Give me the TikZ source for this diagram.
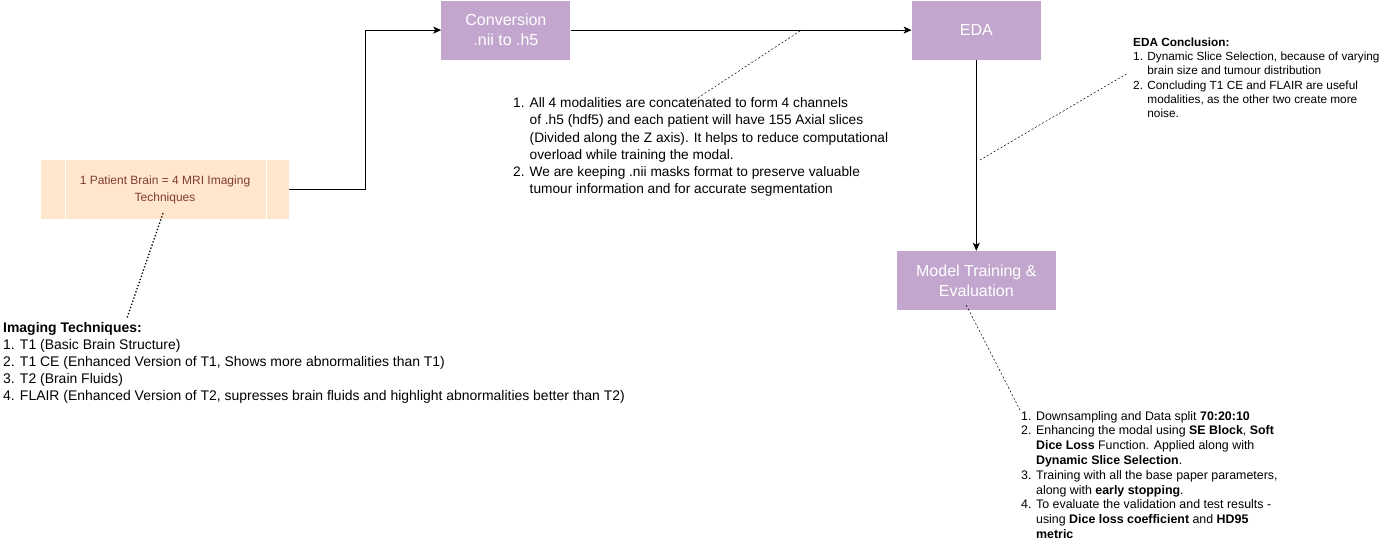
\documentclass[tikz,border=0pt]{standalone}
\usepackage{fontspec}
\setmainfont{Liberation Sans}
\usepackage{xcolor}
\usepackage{tikz}
\usetikzlibrary{positioning,arrows.meta}
\definecolor{stagepurple}{RGB}{195,166,206}
\definecolor{peach}{RGB}{255,230,204}
\definecolor{peachtext}{RGB}{130,60,50}

\begin{document}
\begin{tikzpicture}[>={Stealth[length=8pt,width=7pt,inset=2pt]}, x=1pt, y=-1pt,
  stage/.style={fill=stagepurple, text=white, minimum width=129pt, minimum height=59pt, inner sep=0pt, align=center, font=\fontsize{16}{20}\selectfont},
  note/.style={anchor=north west, inner sep=0pt, align=left},
  link/.style={dash pattern=on 2pt off 2pt, line width=0.5pt}]
  \useasboundingbox (0,0) rectangle (1390,555);

  \node[fill=peach, text=peachtext, minimum width=248pt, minimum height=59pt, inner sep=0pt, align=center, font=\fontsize{12}{17}\selectfont] (patient) at (165,189.5) {1 Patient Brain = 4 MRI Imaging\\Techniques};
  \draw[white, line width=1pt] ([xshift=25pt]patient.north west) -- ([xshift=25pt]patient.south west);
  \draw[white, line width=1pt] ([xshift=-23pt]patient.north east) -- ([xshift=-23pt]patient.south east);
  \node[stage] [above right=100pt and 152pt of patient] (conv) {Conversion\\.nii to .h5};
  \node[stage] [right=341pt of conv] (eda) {EDA};
  \node[stage] [below=191pt of eda, minimum width=159pt] (train) {Model Training \&\\Evaluation};

  \node[note, font=\fontsize{13.95}{17}\selectfont] (techniques) at (3,322.5) {\textbf{Imaging Techniques:}\\
    1. T1 (Basic Brain Structure)\\
    2. T1 CE (Enhanced Version of T1, Shows more abnormalities than T1)\\
    3. T2 (Brain Fluids)\\
    4. FLAIR (Enhanced Version of T2, supresses brain fluids and highlight abnormalities better than T2)};
  \node[note, font=\fontsize{13.7}{17.2}\selectfont] (convnote) at (513,97.5) {1. All 4 modalities are concatenated to form 4 channels\\
    \hphantom{1. }of .h5 (hdf5) and each patient will have 155 Axial slices\\
    \hphantom{1. }(Divided along the Z axis). It helps to reduce computational\\
    \hphantom{1. }overload while training the modal.\\
    2. We are keeping .nii masks format to preserve valuable\\
    \hphantom{2. }tumour information and for accurate segmentation};
  \node[note, font=\fontsize{11.8}{14.3}\selectfont] (edanote) at (1133,37.5) {\textbf{EDA Conclusion:}\\
    1. Dynamic Slice Selection, because of varying\\
    \hphantom{1. }brain size and tumour distribution\\
    2. Concluding T1 CE and FLAIR are useful\\
    \hphantom{2. }modalities, as the other two create more\\
    \hphantom{2. }noise.};
  \node[note, font=\fontsize{12.4}{14.8}\selectfont] (trainnote) at (1021,411) {1. Downsampling and Data split \textbf{70:20:10}\\
    2. Enhancing the modal using \textbf{SE Block}, \textbf{Soft}\\
    \hphantom{2. }\textbf{Dice Loss} Function. Applied along with\\
    \hphantom{2. }\textbf{Dynamic Slice Selection}.\\
    3. Training with all the base paper parameters,\\
    \hphantom{3. }along with \textbf{early stopping}.\\
    4. To evaluate the validation and test results -\\
    \hphantom{4. }using \textbf{Dice loss coefficient} and \textbf{HD95}\\
    \hphantom{4. }\textbf{metric}};

  \coordinate (techtip) at (127,318);
  \coordinate (convfoot) at (800,31);
  \coordinate (convtip) at (690,103);
  \coordinate (edatip) at (980,160);
  \coordinate (edafoot) at (1128,73);
  \coordinate (trainfoot) at (1020,410);

  \draw[->, line width=1pt] (patient.east) -- ++(76,0) |- (conv.west);
  \draw[->, line width=1pt] (conv) -- (eda);
  \draw[->, line width=1pt] (eda) -- (train);

  \draw[dotted, line width=1.3pt] ([xshift=-2pt, yshift=6pt]patient.south) -- (techtip);
  \draw[link] (convfoot) -- (convtip);
  \draw[link] (edatip) -- (edafoot);
  \draw[link] ([xshift=-10pt, yshift=5pt]train.south) -- (trainfoot);
\end{tikzpicture}
\end{document}
